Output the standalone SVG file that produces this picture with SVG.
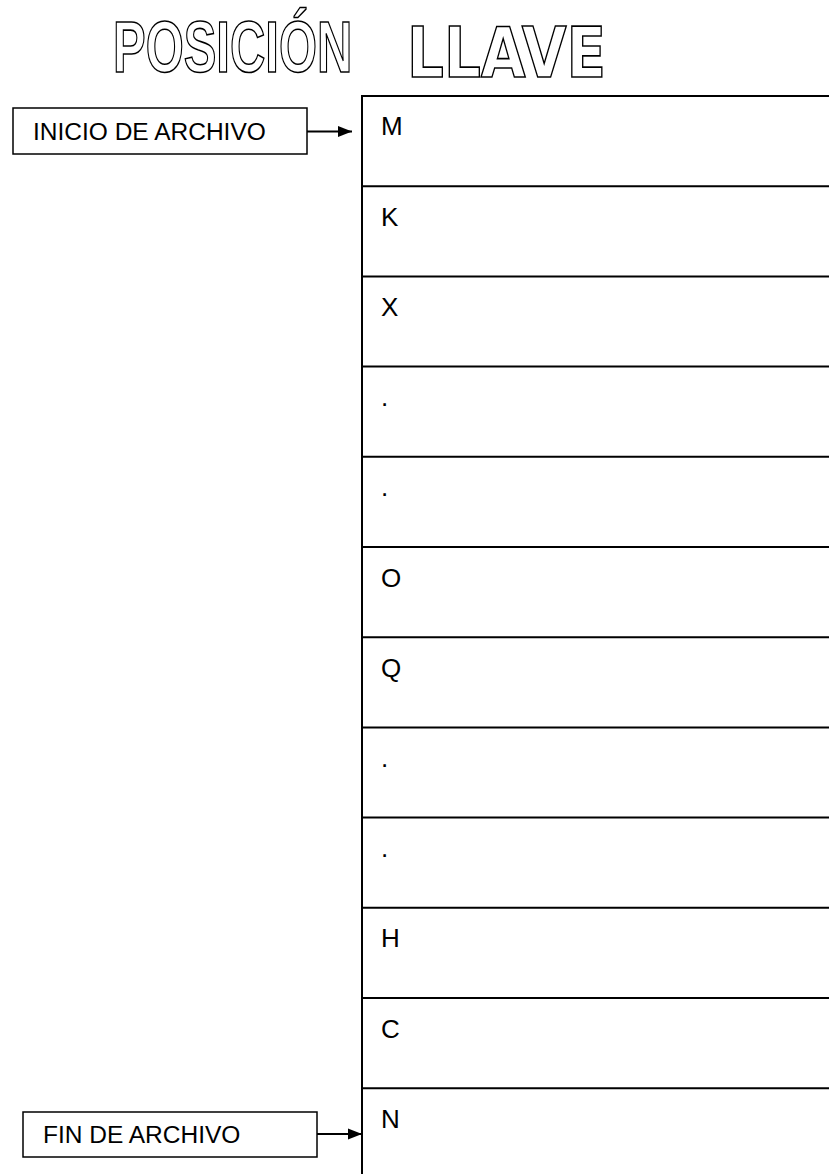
<svg xmlns="http://www.w3.org/2000/svg" width="829" height="1174" viewBox="0 0 829 1174">
<style>
.title{fill:#fff;stroke:#000;stroke-width:1.6;font-weight:bold}
.t1{font-family:"Liberation Sans",Arial,sans-serif;font-size:72px}
.t2{font-family:"DejaVu Sans",Verdana,sans-serif;font-size:69px}
.lbl{font-family:"Liberation Sans",Arial,sans-serif;font-size:24.5px;fill:#000}
.cell{font-family:"Liberation Sans",Arial,sans-serif;font-size:26px;fill:#000}
.box{fill:#fff;stroke:#000;stroke-width:1.5}
.grid{stroke:#000;stroke-width:2;fill:none}
.conn{stroke:#000;stroke-width:2;fill:none}
</style>
<defs>
<marker id="arr" markerWidth="14" markerHeight="12" refX="14" refY="6" orient="auto" markerUnits="userSpaceOnUse">
<path d="M0,0.5 L14,6 L0,11.5 Z" fill="#000"/>
</marker>
</defs>
<rect width="829" height="1174" fill="#fff"/>
<g id="title">
<text class="title t1" transform="translate(113,72) scale(0.68,1)">POSICIÓN</text>
<text class="title t2" transform="translate(407,77) scale(0.84,1)">LLAVE</text>
</g>
<g id="table">
<line class="grid" x1="362" y1="96" x2="362" y2="1174"/>
<line class="grid" x1="361" y1="96" x2="829" y2="96"/>
<line class="grid" x1="362" y1="186.2" x2="829" y2="186.2"/>
<line class="grid" x1="362" y1="276.4" x2="829" y2="276.4"/>
<line class="grid" x1="362" y1="366.6" x2="829" y2="366.6"/>
<line class="grid" x1="362" y1="456.8" x2="829" y2="456.8"/>
<line class="grid" x1="362" y1="547" x2="829" y2="547"/>
<line class="grid" x1="362" y1="637.2" x2="829" y2="637.2"/>
<line class="grid" x1="362" y1="727.4" x2="829" y2="727.4"/>
<line class="grid" x1="362" y1="817.6" x2="829" y2="817.6"/>
<line class="grid" x1="362" y1="907.8" x2="829" y2="907.8"/>
<line class="grid" x1="362" y1="998" x2="829" y2="998"/>
<line class="grid" x1="362" y1="1088.2" x2="829" y2="1088.2"/>
</g>
<g id="cells">
<text class="cell" x="381" y="135">M</text>
<text class="cell" x="381" y="225.5">K</text>
<text class="cell" x="381" y="315.5">X</text>
<text class="cell" x="381" y="406">.</text>
<text class="cell" x="381" y="496">.</text>
<text class="cell" x="381" y="586.5">O</text>
<text class="cell" x="381" y="676.5">Q</text>
<text class="cell" x="381" y="767">.</text>
<text class="cell" x="381" y="857">.</text>
<text class="cell" x="381" y="947">H</text>
<text class="cell" x="381" y="1037.5">C</text>
<text class="cell" x="381" y="1128">N</text>
</g>
<g id="inicio">
<rect class="box" x="13" y="108" width="294" height="46"/>
<text class="lbl" x="33" y="140">INICIO DE ARCHIVO</text>
</g>
<g id="fin">
<rect class="box" x="23" y="1112" width="294" height="45"/>
<text class="lbl" x="43" y="1143">FIN DE ARCHIVO</text>
</g>
<g id="connectors">
<line class="conn" x1="307" y1="131.5" x2="352" y2="131.5" marker-end="url(#arr)"/>
<line class="conn" x1="317" y1="1134" x2="362" y2="1134" marker-end="url(#arr)"/>
</g>
</svg>
